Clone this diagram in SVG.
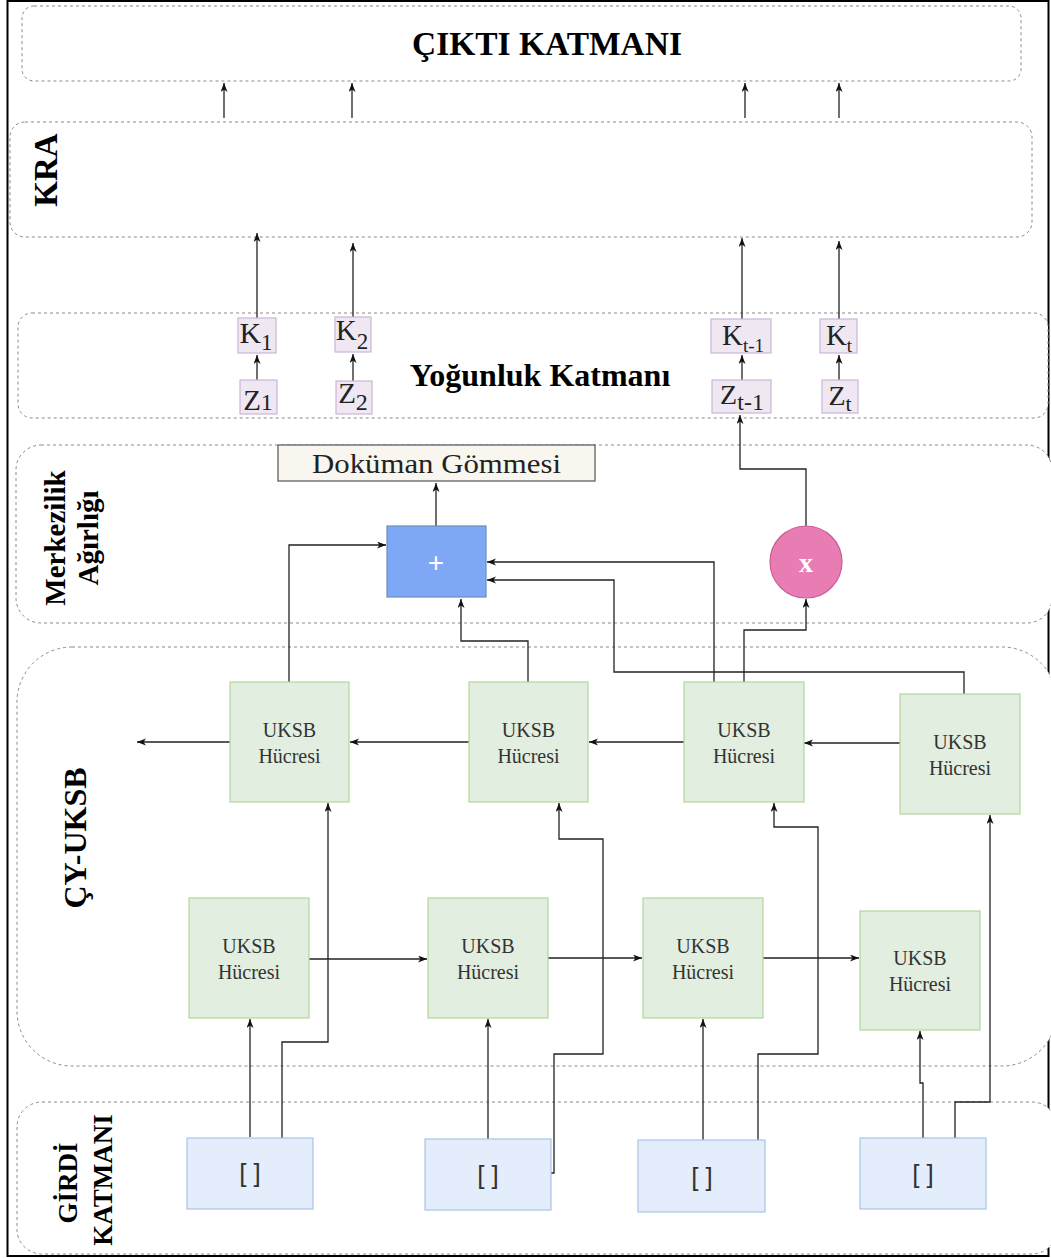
<svg xmlns="http://www.w3.org/2000/svg" width="1051" height="1258" viewBox="0 0 1051 1258">
  <defs>
    <marker id="arr" markerUnits="userSpaceOnUse" markerWidth="10" markerHeight="8" refX="9" refY="3.5" orient="auto">
      <path d="M0,0 L9,3.5 L0,7 L2.5,3.5 Z" fill="#111"/>
    </marker>
    <style>
      .layer { fill: #fff; stroke: #8a8a8a; stroke-width: 1; stroke-dasharray: 3 3; }
      .title { font-family: "Liberation Serif", "Times New Roman", serif; font-weight: bold; fill: #000; }
      .cell rect { fill: #e2eee0; stroke: #b2d79c; stroke-width: 1.2; }
      .cell text { font-family: "Liberation Serif", "Times New Roman", serif; font-size: 20px; fill: #333; text-anchor: middle; }
      .inp rect { fill: #e3edfb; stroke: #a9c3e6; stroke-width: 1.2; }
      .inp text { font-family: "Liberation Sans", Arial, sans-serif; font-size: 26px; fill: #333; text-anchor: middle; }
      .vec rect { fill: #efe8f3; stroke: #cbb5d8; stroke-width: 1.2; }
      .vec text { font-family: "Liberation Serif", "Times New Roman", serif; fill: #222; text-anchor: middle; }
      .conn path { fill: none; stroke: #222; stroke-width: 1.3; marker-end: url(#arr); }
    </style>
  </defs>

  <rect x="0" y="0" width="1051" height="1258" fill="#fff"/>
  <!-- outer frame -->
  <rect x="7.5" y="1" width="1041" height="1255" fill="none" stroke="#000" stroke-width="2"/>

  <!-- layer bands -->
  <g id="output-layer">
    <rect class="layer" x="22" y="6" width="999" height="75" rx="12"/>
    <text class="title" x="547" y="55" font-size="34" text-anchor="middle" textLength="270" lengthAdjust="spacingAndGlyphs">ÇIKTI KATMANI</text>
  </g>
  <g id="kra-layer">
    <rect class="layer" x="10" y="122" width="1022" height="115" rx="15"/>
    <text class="title" transform="translate(57,170) rotate(-90)" font-size="33" text-anchor="middle">KRA</text>
  </g>
  <g id="dense-layer">
    <rect class="layer" x="18" y="313" width="1030" height="105" rx="14"/>
    <text class="title" x="540" y="386" font-size="32" text-anchor="middle">Yoğunluk Katmanı</text>
  </g>
  <g id="centrality-layer">
    <rect class="layer" x="16" y="445" width="1036" height="178" rx="25"/>
    <text class="title" transform="translate(65,538) rotate(-90)" font-size="29" text-anchor="middle">Merkezilik</text>
    <text class="title" transform="translate(98,538) rotate(-90)" font-size="29" text-anchor="middle">Ağırlığı</text>
  </g>
  <g id="bilstm-layer">
    <rect class="layer" x="17" y="647" width="1040" height="419" rx="55"/>
    <text class="title" transform="translate(86,838) rotate(-90)" font-size="32" text-anchor="middle">ÇY-UKSB</text>
  </g>
  <g id="input-layer">
    <rect class="layer" x="17" y="1102" width="1040" height="152" rx="25"/>
    <text class="title" transform="translate(77,1183) rotate(-90)" font-size="27" text-anchor="middle">GİRDİ</text>
    <text class="title" transform="translate(112,1180) rotate(-90)" font-size="27" text-anchor="middle">KATMANI</text>
  </g>

  <!-- connectors -->
  <g id="connectors" class="conn">
    <!-- KRA to output -->
    <path d="M224,118 V83"/>
    <path d="M352,118 V83"/>
    <path d="M745,118 V83"/>
    <path d="M839,118 V83"/>
    <!-- dense outputs to KRA -->
    <path d="M257,318 V233"/>
    <path d="M353,317 V243"/>
    <path d="M742,319 V238"/>
    <path d="M839,319 V241"/>
    <!-- Z to K -->
    <path d="M257,380 V355"/>
    <path d="M353,381 V354"/>
    <path d="M742,380 V355"/>
    <path d="M839,380 V355"/>
    <!-- product to Z(t-1) -->
    <path d="M806,526 V469 H740 V415"/>
    <!-- sum to document embedding -->
    <path d="M436,526 V483"/>
    <!-- backward cells to sum / product -->
    <path d="M289,682 V545 H386"/>
    <path d="M528,682 V641 H461 V599"/>
    <path d="M714,682 V562 H487"/>
    <path d="M744,682 V630 H806 V599"/>
    <path d="M964,694 V672 H614 V580 H487"/>
    <!-- backward chain -->
    <path d="M900,743 H804"/>
    <path d="M684,742 H589"/>
    <path d="M469,742 H350"/>
    <path d="M230,742 H137"/>
    <!-- forward chain -->
    <path d="M309,959 H427"/>
    <path d="M548,958 H642"/>
    <path d="M763,958 H859"/>
    <!-- inputs to forward cells -->
    <path d="M250,1137 V1019"/>
    <path d="M488,1139 V1019"/>
    <path d="M703,1140 V1019"/>
    <path d="M923,1138 V1083 H920 V1031"/>
    <!-- inputs to backward cells -->
    <path d="M282,1138 V1042 H328 V803"/>
    <path d="M551,1173 H554 V1054 H603 V839 H559 V803"/>
    <path d="M758,1140 V1054 H818 V827 H774 V803"/>
    <path d="M955,1138 V1102 H990 V815"/>
  </g>

  <!-- dense vectors -->
  <g id="k1" class="vec">
    <rect x="238" y="318" width="38" height="35"/>
    <text x="256" y="343"><tspan font-size="30">K</tspan><tspan font-size="23" dy="7">1</tspan></text>
  </g>
  <g id="z1" class="vec">
    <rect x="240" y="380" width="37" height="34"/>
    <text x="258" y="410"><tspan font-size="29">Z</tspan><tspan font-size="24">1</tspan></text>
  </g>
  <g id="k2" class="vec">
    <rect x="335" y="317" width="36" height="35"/>
    <text x="352" y="340"><tspan font-size="29">K</tspan><tspan font-size="23" dy="9">2</tspan></text>
  </g>
  <g id="z2" class="vec">
    <rect x="336" y="381" width="36" height="33"/>
    <text x="353" y="403"><tspan font-size="29">Z</tspan><tspan font-size="24" dy="7">2</tspan></text>
  </g>
  <g id="kt1" class="vec">
    <rect x="711" y="319" width="60" height="34"/>
    <text x="743" y="345"><tspan font-size="29">K</tspan><tspan font-size="19" dy="7">t-1</tspan></text>
  </g>
  <g id="zt1" class="vec">
    <rect x="712" y="380" width="59" height="33"/>
    <text x="742" y="404"><tspan font-size="28">Z</tspan><tspan font-size="24" dy="6">t-1</tspan></text>
  </g>
  <g id="kt" class="vec">
    <rect x="820" y="319" width="37" height="34"/>
    <text x="839" y="345"><tspan font-size="29">K</tspan><tspan font-size="19" dy="7">t</tspan></text>
  </g>
  <g id="zt" class="vec">
    <rect x="822" y="380" width="36" height="33"/>
    <text x="840" y="405"><tspan font-size="28">Z</tspan><tspan font-size="22" dy="6">t</tspan></text>
  </g>

  <!-- document embedding -->
  <g id="doc-embedding">
    <rect x="278" y="445" width="317" height="36" fill="#f8f6ee" stroke="#555" stroke-width="1.2"/>
    <text x="312" y="473" font-family="'Liberation Serif', 'Times New Roman', serif" font-size="27" fill="#222" textLength="249" lengthAdjust="spacingAndGlyphs">Doküman Gömmesi</text>
  </g>

  <!-- sum node -->
  <g id="sum">
    <rect x="387" y="526" width="99" height="71" fill="#7ea7f6" stroke="#6c8ebf" stroke-width="1.2"/>
    <text x="436" y="572" font-family="'Liberation Sans', Arial, sans-serif" font-size="28" fill="#fff" text-anchor="middle">+</text>
  </g>

  <!-- product node -->
  <g id="product">
    <ellipse cx="806" cy="562" rx="36" ry="36" fill="#e87db4" stroke="#c95f93" stroke-width="1.2"/>
    <text x="806" y="572" font-family="'Liberation Serif', 'Times New Roman', serif" font-size="28" font-weight="bold" fill="#fff" text-anchor="middle">x</text>
  </g>

  <!-- backward UKSB cells -->
  <g id="cell-b1" class="cell">
    <rect x="230" y="682" width="119" height="120"/>
    <text x="289.5" y="737">UKSB</text><text x="289.5" y="763">Hücresi</text>
  </g>
  <g id="cell-b2" class="cell">
    <rect x="469" y="682" width="119" height="120"/>
    <text x="528.5" y="737">UKSB</text><text x="528.5" y="763">Hücresi</text>
  </g>
  <g id="cell-b3" class="cell">
    <rect x="684" y="682" width="120" height="120"/>
    <text x="744" y="737">UKSB</text><text x="744" y="763">Hücresi</text>
  </g>
  <g id="cell-b4" class="cell">
    <rect x="900" y="694" width="120" height="120"/>
    <text x="960" y="749">UKSB</text><text x="960" y="775">Hücresi</text>
  </g>

  <!-- forward UKSB cells -->
  <g id="cell-f1" class="cell">
    <rect x="189" y="898" width="120" height="120"/>
    <text x="249" y="953">UKSB</text><text x="249" y="979">Hücresi</text>
  </g>
  <g id="cell-f2" class="cell">
    <rect x="428" y="898" width="120" height="120"/>
    <text x="488" y="953">UKSB</text><text x="488" y="979">Hücresi</text>
  </g>
  <g id="cell-f3" class="cell">
    <rect x="643" y="898" width="120" height="120"/>
    <text x="703" y="953">UKSB</text><text x="703" y="979">Hücresi</text>
  </g>
  <g id="cell-f4" class="cell">
    <rect x="860" y="911" width="120" height="119"/>
    <text x="920" y="965">UKSB</text><text x="920" y="991">Hücresi</text>
  </g>

  <!-- input vectors -->
  <g id="in1" class="inp">
    <rect x="187" y="1138" width="126" height="71"/>
    <text x="250" y="1182">[ ]</text>
  </g>
  <g id="in2" class="inp">
    <rect x="425" y="1139" width="126" height="71"/>
    <text x="488" y="1184">[ ]</text>
  </g>
  <g id="in3" class="inp">
    <rect x="638" y="1140" width="127" height="72"/>
    <text x="702" y="1186">[ ]</text>
  </g>
  <g id="in4" class="inp">
    <rect x="860" y="1138" width="126" height="71"/>
    <text x="923" y="1183">[ ]</text>
  </g>
</svg>
